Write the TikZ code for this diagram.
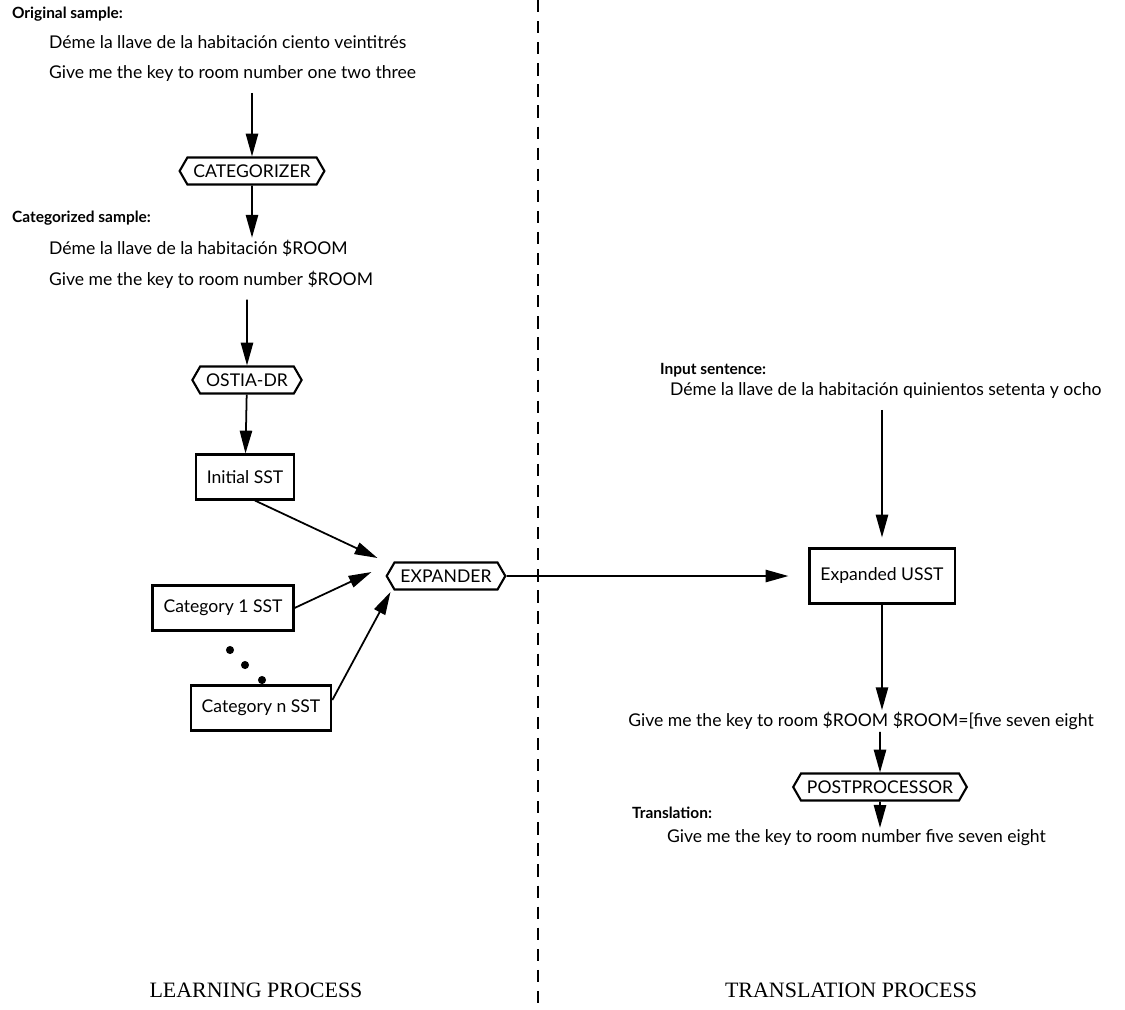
\documentclass[tikz,border=0pt]{standalone}
\usepackage{fontspec}
\setmainfont{Liberation Serif}
\newfontfamily\labelfont{Lato}
\usepackage{tikz}
\usetikzlibrary{shapes.symbols,arrows.meta,positioning}

\begin{document}
\begin{tikzpicture}[x=0.02cm, y=-0.02cm,
    font=\labelfont\fontsize{10}{12}\selectfont,
    txt/.style={anchor=west, inner sep=1pt},
    head/.style={txt, font=\labelfont\bfseries\fontsize{8.8}{11}\selectfont},
    box/.style={rectangle, draw, line width=1.2pt, minimum height=0.9cm, inner xsep=0.22cm},
    proc/.style={signal, signal to=west and east, signal pointer angle=120, draw, line width=1.2pt,
        minimum height=0.54cm, inner xsep=0.12cm, inner ysep=0pt},
    arr/.style={-{Triangle[length=13pt,width=7pt]}, line width=1pt},
    title/.style={font=\fontsize{12.5}{15}\selectfont}]

                \useasboundingbox (0,0) rectangle (1125,1009);

                % learning side
                \node[head] (orighead) at (10,14) {Original sample:};
                \node[txt] (orig1) at (47,42) {Déme la llave de la habitación ciento veintitrés};
                \node[txt] (orig2) at (47,74) {Give me the key to room number one two three};
                \node[proc] (catzr) at (252,171) {CATEGORIZER};
                \node[head] (cathead) at (10,218) {Categorized sample:};
                \node[txt] (cat1) at (47,248) {Déme la llave de la habitación \$ROOM};
                \node[txt] (cat2) at (47,280) {Give me the key to room number \$ROOM};
                \node[proc] (ostia) at (247,380) {OSTIA-DR};
                \node[box] (init) at (245,477) {Initial SST};
                \node[proc] (expd) at (446,576) {EXPANDER};
                \node[box] (catone) at (223,608) {Category 1 SST};
                \node[box] (catn) at (261,708) {Category n SST};

                \foreach \x/\y in {230/650, 245/665, 262/680}{
                    \fill (\x,\y) circle (2.3pt);
                }

                % translation side
                \node[head] (inhead) at (658,370) {Input sentence:};
                \node[txt] (input) at (668,391) {Déme la llave de la habitación quinientos setenta y ocho};
                \node[box, minimum height=1.1cm] (usst) at (882,576) {Expanded USST};
                \node[txt, anchor=center] (roomline) at (861,721) {Give me the key to room \$ROOM \$ROOM=[five seven eight};
                \node[proc] (post) at (880,787) {POSTPROCESSOR};
                \node[head] (trhead) at (630,813) {Translation:};
                \node[txt] (trans) at (665,838) {Give me the key to room number five seven eight};

                \node[title] (learn) at (256,990) {LEARNING PROCESS};
                \node[title] (transl) at (851,990) {TRANSLATION PROCESS};

                \draw[dash pattern=on 7pt off 5pt, line width=0.6pt] (538,0) -- (538,1009);

                \draw[arr, shorten <=5pt] (orig2.south -| catzr) -- (catzr.north);
                \draw[arr] (catzr) -- (catzr |- cat1.north);
                \draw[arr, shorten <=5pt] (cat2.south -| ostia) -- (ostia);
                \draw[arr] (ostia) -- (init);
                \draw[arr] ([xshift=0.2cm]init.south) -- ([shift={(-8,-18)}]expd.west);
                \draw[arr] (catone.east) -- ([shift={(-14,-4)}]expd.west);
                \draw[arr] ([yshift=0.16cm]catn.east) -- ([shift={(5,16)}]expd.west);
                \draw[arr, shorten >=0.4cm] (expd) -- (usst);
                \draw[arr, shorten <=5pt, shorten >=0.2cm] (input.south -| usst) -- (usst);
                \draw[arr] (usst) -- (usst |- roomline.north);
                \draw[arr] (roomline.south -| post) -- (post);
                \draw[arr] (post) -- (post |- trans.north);

        \end{tikzpicture}
\end{document}
